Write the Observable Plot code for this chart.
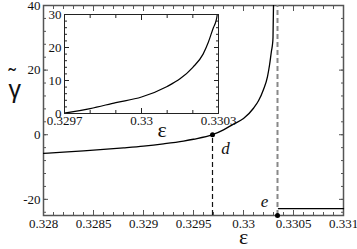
<!DOCTYPE html>
<html><head><meta charset="utf-8">
<script src="https://cdn.jsdelivr.net/npm/d3@7"></script>
<script src="https://cdn.jsdelivr.net/npm/@observablehq/plot@0.6"></script>
<style>
body{margin:0;background:#fff;}
#wrap{position:relative;width:357px;height:249px;}
#wrap > svg{position:absolute;left:0;top:0;font-family:"Liberation Serif","Times New Roman",serif !important;}
#wrap > svg.inset{left:34px;top:8px;}
</style></head><body><div id="wrap"></div>
<script>
// curve gamma~(epsilon)
const eps   = [0.3280, 0.3282, 0.3284, 0.3286, 0.3288, 0.3290, 0.3292, 0.3294, 0.3295, 0.32969, 0.3298, 0.3299, 0.3300, 0.3301, 0.33015, 0.3302, 0.33024, 0.33026, 0.33028, 0.33029, 0.330295, 0.3303];
const gamma = [-5.75, -5.4, -5.0, -4.55, -4.05, -3.5, -2.8, -1.95, -1.4, 0.0, 1.5, 3.3, 5.0, 8.2, 10.5, 14.0, 18.0, 21.5, 26.0, 28.0, 30.0, 40.0];
// marked points d and e
const pointNames = ["d", "e"];
const pointEps = [0.32969, 0.33034];
const pointGamma = [0, -25];
const labelEps = [0.32982, 0.33021];
const labelGamma = [-4.3, -20.7];
// jump branch after e
const jumpEps = [0.33035, 0.331];
const jumpGamma = [-22.9, -22.9];
// main axes
const mainX = [0.328, 0.331];
const mainY = [-25, 40];
const mainXTicks = [0.328, 0.3285, 0.329, 0.3295, 0.33, 0.3305, 0.331];
const mainXLabels = ["0.328", "0.3285", "0.329", "0.3295", "0.33", "0.3305", "0.331"];
const mainYTicks = [-20, 0, 20, 40];
const mainYLabels = ["-20", "0", "20", "40"];
// inset axes
const insetX = [0.3297, 0.3303];
const insetY = [0, 30];
const insetXTicks = [0.3297, 0.33, 0.3303];
const insetXLabels = ["0.3297", "0.33", "0.3303"];
const insetYTicks = [0, 10, 20, 30];
const insetYLabels = ["0", "10", "20", "30"];

const curve = eps.map((e, i) => ({e, g: gamma[i]}));
const pts = pointNames.map((n, i) => ({n, e: pointEps[i], g: pointGamma[i], le: labelEps[i], lg: labelGamma[i]}));
const minor = (a, b, step) => d3.range(Math.round((b - a) / step) + 1).map(i => +(a + i * step).toFixed(6));
const lab = (vals, labels) => (d) => labels[vals.findIndex(v => Math.abs(v - d) < 1e-9)];

const AX = "#555";
function tickAxes(xMaj, xMin, yMaj, yMin, color) {
  const o = {stroke: color, tickFormat: () => "", label: null};
  return [
    Plot.axisX(xMin, {...o, anchor: "bottom", tickSize: -3}),
    Plot.axisX(xMaj, {...o, anchor: "bottom", tickSize: -5}),
    Plot.axisX(xMin, {...o, anchor: "top", tickSize: -3}),
    Plot.axisX(xMaj, {...o, anchor: "top", tickSize: -5}),
    Plot.axisY(yMin, {...o, anchor: "left", tickSize: -3}),
    Plot.axisY(yMaj, {...o, anchor: "left", tickSize: -5}),
    Plot.axisY(yMin, {...o, anchor: "right", tickSize: -3}),
    Plot.axisY(yMaj, {...o, anchor: "right", tickSize: -5})
  ];
}

const main = Plot.plot({
  width: 357, height: 249,
  marginLeft: 43, marginRight: 14, marginTop: 5, marginBottom: 34,
  style: {fontFamily: "'Liberation Serif', serif", fontSize: "13px", background: "white"},
  x: {domain: mainX, axis: null},
  y: {domain: mainY, axis: null},
  marks: [
    ...tickAxes(mainXTicks, minor(0.328, 0.331, 0.0001), mainYTicks, minor(-24, 40, 4), AX),
    Plot.axisX(mainXTicks, {anchor: "bottom", tickSize: 0, tickPadding: 3, tickFormat: lab(mainXTicks, mainXLabels), label: null, fill: "#111"}),
    Plot.axisY(mainYTicks, {anchor: "left", tickSize: 0, tickPadding: 3, tickFormat: lab(mainYTicks, mainYLabels), label: null, fill: "#111"}),
    Plot.frame({stroke: AX, strokeWidth: 1.5}),
    Plot.ruleX([pts[1]], {x: "e", y1: mainY[0], y2: mainY[1], stroke: "#888", strokeWidth: 2, strokeDasharray: "5,3"}),
    Plot.ruleX([pts[0]], {x: "e", y1: mainY[0], y2: "g", stroke: "#111", strokeWidth: 1.2, strokeDasharray: "5,3"}),
    Plot.line(curve, {x: "e", y: "g", stroke: "#000", strokeWidth: 1.3, curve: "monotone-x", clip: true}),
    Plot.line(jumpEps.map((e, i) => ({e, g: jumpGamma[i]})), {x: "e", y: "g", stroke: "#000", strokeWidth: 1.3}),
    Plot.dot(pts, {x: "e", y: "g", r: 2.5, fill: "#000", stroke: "none"}),
    Plot.text(pts, {x: "le", y: "lg", text: "n", fontStyle: "italic", fontSize: 17, fill: "#111"}),
    Plot.text(["ε"], {x: [0.33], frameAnchor: "bottom", dy: 28, fontSize: 22, fill: "#111"}),
    Plot.text(["γ"], {y: [14], frameAnchor: "left", dx: -35, fontSize: 25, fontFamily: "Liberation Sans", fill: "#111"}),
    Plot.text(["˜"], {y: [14], frameAnchor: "left", dx: -35, dy: -13, fontSize: 22, fontFamily: "Liberation Sans", fill: "#111"})
  ]
});

const inset = Plot.plot({
  width: 204, height: 135,
  marginLeft: 30, marginRight: 20, marginTop: 6, marginBottom: 30,
  style: {fontFamily: "'Liberation Serif', serif", fontSize: "13px", background: "transparent"},
  x: {domain: insetX, axis: null},
  y: {domain: insetY, axis: null},
  marks: [
    Plot.frame({fill: "white", stroke: "none"}),
    ...tickAxes(insetXTicks, minor(0.3297, 0.3303, 0.0001), insetYTicks, minor(0, 30, 2), "#222"),
    Plot.axisX(insetXTicks, {anchor: "bottom", tickSize: 0, tickPadding: 2, tickFormat: lab(insetXTicks, insetXLabels), label: null, fill: "#111"}),
    Plot.axisY(insetYTicks, {anchor: "left", tickSize: 0, tickPadding: 3, tickFormat: lab(insetYTicks, insetYLabels), label: null, fill: "#111"}),
    Plot.line(curve, {x: "e", y: "g", stroke: "#000", strokeWidth: 1.2, curve: "monotone-x", clip: true}),
    Plot.frame({stroke: "#222", strokeWidth: 1}),
    Plot.text(["ε"], {x: [0.33008], frameAnchor: "bottom", dy: 23, fontSize: 22, fill: "#111"})
  ]
});
inset.classList.add("inset");
const wrap = document.getElementById("wrap");
wrap.appendChild(main);
wrap.appendChild(inset);
</script></body></html>
